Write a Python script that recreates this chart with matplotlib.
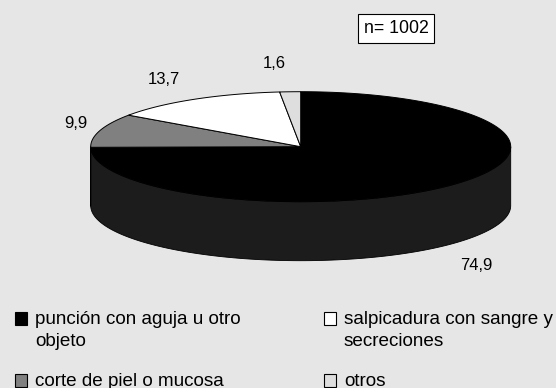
import numpy as np
import matplotlib.pyplot as plt
from matplotlib.patches import Polygon, Rectangle

plt.rcParams['font.family'] = ['Liberation Sans', 'DejaVu Sans']

categorias = ["punción con aguja u otro\nobjeto", "corte de piel o mucosa",
              "salpicadura con sangre y\nsecreciones", "otros"]
porcentajes = [74.9, 9.9, 13.7, 1.6]
n_total = 1002

colores_sup = ["#000000", "#808080", "#ffffff", "#dedede"]
colores_lat = ["#1c1c1c", "#606060", "#c0c0c0", "#b0b0b0"]
fondo = "#e6e6e6"

# geometria del pastel (en pixeles)
cx, cy = 300.7, 146.7
rx, ry = 210.0, 55.0
prof = 59.0

# posiciones de las etiquetas de valor
pos_etq = [(476, 265), (76, 124), (164, 79), (274, 64)]

fig = plt.figure(figsize=(5.56, 3.88), dpi=100)
fig.patch.set_facecolor(fondo)
ax = fig.add_axes([0, 0, 1, 1])
ax.set_xlim(0, 556)
ax.set_ylim(388, 0)
ax.axis("off")


def punto(t, dz=0.0):
    return cx + rx * np.cos(t), cy - ry * np.sin(t) + dz


fracs = np.array(porcentajes) / sum(porcentajes)
bordes = np.radians(90 - 360 * np.concatenate([[0], np.cumsum(fracs)]))

# paredes laterales (solo la mitad frontal es visible)
for i in range(len(porcentajes)):
    t0, t1 = bordes[i + 1], bordes[i]
    # parte del arco con sin(t) < 0, es decir entre -pi y 0 (mod 2pi)
    for k in range(-2, 2):
        lo = max(t0, -np.pi + 2 * np.pi * k)
        hi = min(t1, 0 + 2 * np.pi * k)
        if hi <= lo:
            continue
        t = np.linspace(lo, hi, 120)
        xa, ya = punto(t)
        xb, yb = punto(t[::-1], prof)
        pts = np.column_stack([np.concatenate([xa, xb]), np.concatenate([ya, yb])])
        ax.add_patch(Polygon(pts, closed=True, facecolor=colores_lat[i],
                             edgecolor="#000000", linewidth=0.6, zorder=1))

# caras superiores
for i in range(len(porcentajes)):
    t = np.linspace(bordes[i], bordes[i + 1], 200)
    xs, ys = punto(t)
    pts = np.column_stack([np.concatenate([[cx], xs]), np.concatenate([[cy], ys])])
    ax.add_patch(Polygon(pts, closed=True, facecolor=colores_sup[i],
                         edgecolor="#000000", linewidth=0.7, zorder=2))

for v, (x, y) in zip(porcentajes, pos_etq):
    ax.text(x, y, f"{v:.1f}".replace(".", ","), ha="center", va="center",
            fontsize=12, color="#000000")

ax.text(396, 28.5, f"n= {n_total}", ha="center", va="center", fontsize=12.8,
        bbox=dict(boxstyle="square,pad=0.32", facecolor="white",
                  edgecolor="#000000", linewidth=0.8))

# leyenda en dos columnas
col_x = [15, 324]
fila_y = [312, 374]
for i, (lab, c) in enumerate(zip(categorias, colores_sup)):
    x, y = col_x[i // 2], fila_y[i % 2]
    ax.add_patch(Rectangle((x, y), 12, 13, facecolor=c, edgecolor="#000000",
                           linewidth=0.8))
    ax.text(x + 20, y - 1.5, lab, ha="left", va="top", fontsize=13.6,
            linespacing=1.45)

fig.savefig("out.png", dpi=100, facecolor=fondo)
